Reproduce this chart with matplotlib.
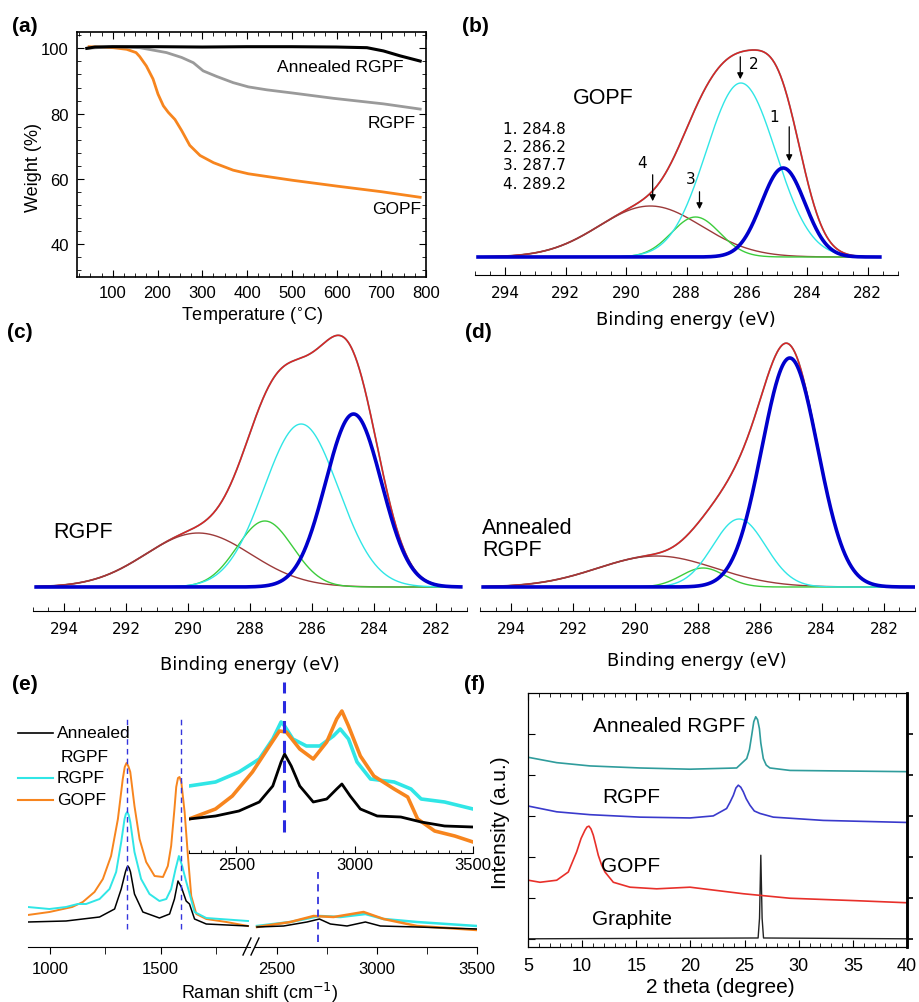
import numpy as np
import matplotlib.pyplot as plt
from matplotlib.lines import Line2D
from matplotlib.ticker import MultipleLocator

plt.rcParams['font.family'] = ['Liberation Sans', 'DejaVu Sans']

# ---- (a) TGA ----
tga_temp_annealed = [42, 60, 100, 200, 300, 400, 500, 600, 668, 705, 742, 787]
tga_w_annealed = [100.0, 100.4, 100.5, 100.5, 100.4, 100.5, 100.5, 100.4, 100.2, 99.2, 97.7, 96.1]
tga_temp_rgpf = [42, 100, 160, 220, 254, 280, 302, 332, 369, 403, 444, 503, 593, 705, 787]
tga_w_rgpf = [100.0, 100.5, 100.2, 98.7, 97.2, 95.6, 93.1, 91.4, 89.5, 88.2, 87.3, 86.3, 84.7, 83.0, 81.4]
tga_temp_gopf = [47, 101, 131, 152, 160, 175, 190, 201, 213, 224, 239, 254, 272, 295, 325, 369, 403,
                 502, 602, 701, 787]
tga_w_gopf = [100.5, 100.2, 99.7, 98.7, 97.5, 94.6, 90.6, 86.0, 82.4, 80.4, 78.2, 74.8, 70.3, 67.2, 65.0,
              62.7, 61.6, 59.6, 57.8, 56.1, 54.4]

# ---- (b)-(d) XPS C1s fits: components 1..4 (centre eV, height, sigma) ----
xps_labels = ['1. 284.8', '2. 286.2', '3. 287.7', '4. 289.2']
gopf_centers = [284.8, 286.2, 287.7, 289.2]
gopf_heights = [89, 174, 40, 51]
gopf_sigmas = [0.72, 1.15, 0.8, 1.7]
rgpf_centers = [284.66, 286.35, 287.52, 289.67]
rgpf_heights = [173, 163, 66, 54]
rgpf_sigmas = [0.9, 1.2, 0.9, 1.7]
ann_centers = [285.03, 286.66, 287.82, 289.32]
ann_heights = [229, 68, 19, 31]
ann_sigmas = [0.9, 0.85, 0.7, 1.9]
arrow_x = [284.6, 286.22, 287.57, 289.12]

# ---- (e) Raman ----
orange_l_x = [899, 997, 1100, 1148, 1201, 1239, 1276, 1307, 1329, 1338, 1346, 1354, 1363, 1382, 1405, 1435,
              1473, 1511, 1533, 1548, 1563, 1571, 1579, 1586, 1594, 1609, 1624, 1639, 1662, 1707, 1798, 1896]
orange_l_y = [32, 35, 40, 45, 55, 68, 91, 128, 168, 180, 184, 181, 175, 141, 108, 85, 71, 70, 81, 101, 138,
              160, 169, 170, 165, 135, 91, 51, 33, 28, 25, 21]
cyan_l_x = [899, 997, 1072, 1125, 1163, 1224, 1269, 1299, 1322, 1337, 1343, 1349, 1356, 1363, 1382, 1412,
            1450, 1495, 1526, 1548, 1568, 1583, 1598, 1613, 1628, 1654, 1707, 1896]
cyan_l_y = [40, 38, 40, 43, 43, 48, 58, 75, 105, 128, 133, 135, 132, 125, 95, 68, 53, 46, 48, 58, 78, 91,
            81, 68, 56, 35, 29, 26]
black_l_x = [899, 1072, 1224, 1292, 1322, 1341, 1347, 1352, 1358, 1364, 1382, 1420, 1495, 1541, 1563, 1579,
             1594, 1616, 1631, 1654, 1707, 1896]
black_l_y = [25, 26, 30, 38, 58, 75, 79, 81, 79, 75, 53, 35, 29, 33, 48, 66, 60, 46, 43, 28, 23, 21]
black_r_x = [2400, 2533, 2650, 2712, 2767, 2850, 2942, 3017, 3200, 3500]
black_r_y = [20, 21, 25, 28, 23, 21, 25, 21, 20, 18]
cyan_r_x = [2400, 2567, 2712, 2817, 2942, 3033, 3200, 3500]
cyan_r_y = [21, 25, 31, 30, 33, 28, 25, 21]
orange_r_x = [2400, 2567, 2683, 2783, 2933, 3033, 3200, 3500]
orange_r_y = [20, 25, 31, 30, 35, 28, 21, 17]
cyan_i_x = [2300, 2412, 2511, 2597, 2654, 2689, 2704, 2739, 2796, 2853, 2910, 2939, 2974, 3010, 3067, 3167,
            3238, 3281, 3380, 3500]
cyan_i_y = [67, 71, 81, 94, 114, 131, 127, 114, 107, 107, 117, 124, 114, 91, 74, 71, 64, 54, 51, 44]
orange_i_x = [2300, 2412, 2483, 2568, 2640, 2682, 2711, 2768, 2825, 2882, 2924, 2946, 2974, 3024, 3081, 3167,
              3224, 3266, 3338, 3423, 3500]
orange_i_y = [34, 44, 57, 81, 107, 122, 121, 104, 94, 111, 134, 142, 127, 97, 77, 64, 56, 34, 22, 17, 11]
black_i_x = [2300, 2412, 2511, 2597, 2654, 2689, 2704, 2732, 2768, 2825, 2882, 2924, 2946, 2981, 3024, 3095,
             3195, 3281, 3380, 3500]
black_i_y = [34, 37, 42, 51, 67, 91, 99, 87, 67, 51, 54, 64, 69, 57, 44, 37, 36, 31, 27, 26]
raman_d_g = [1346, 1592]
raman_2d = 2705

# ---- (f) XRD ----
xrd_graphite_x = [5, 26.25, 26.38, 26.5, 26.62, 26.75, 40]
xrd_graphite_y = [0, 0.02, 0.5, 2.04, 0.5, 0.02, 0]
xrd_gopf_x = [5.03, 6.11, 7.65, 8.72, 9.49, 9.9, 10.26, 10.45, 10.63, 10.82, 11.03, 11.25, 11.49, 11.8, 12.11,
              12.88, 14.42, 16.88, 19.96, 22.42, 24.88, 29.2, 35.35, 40]
xrd_gopf_y = [1.43, 1.38, 1.43, 1.63, 2.12, 2.45, 2.65, 2.73, 2.75, 2.68, 2.53, 2.3, 2.04, 1.8, 1.63, 1.38,
              1.26, 1.22, 1.26, 1.18, 1.10, 0.99, 0.93, 0.88]
xrd_rgpf_x = [5.03, 7.65, 10.72, 15.34, 19.96, 22.11, 23.34, 23.65, 23.96, 24.2, 24.42, 24.65, 24.88, 25.15,
              25.5, 25.9, 26.42, 27.65, 32.27, 40]
xrd_rgpf_y = [3.24, 3.10, 3.03, 2.97, 2.95, 3.0, 3.18, 3.33, 3.50, 3.68, 3.75, 3.7, 3.59, 3.42, 3.26, 3.12,
              3.06, 2.97, 2.89, 2.84]
xrd_ann_x = [5.03, 7.65, 10.72, 15.34, 19.96, 24.27, 25.2, 25.45, 25.66, 25.85, 26.03, 26.2, 26.37, 26.5,
             26.73, 27.0, 27.34, 29.2, 40]
xrd_ann_y = [4.43, 4.30, 4.22, 4.17, 4.14, 4.17, 4.40, 4.62, 4.97, 5.3, 5.42, 5.35, 5.13, 4.78, 4.40, 4.24,
             4.17, 4.11, 4.08]

W, H = 919, 1003
fig = plt.figure(figsize=(W / 100, H / 100), dpi=100)


def px_axes(l, t, r, b):
    return fig.add_axes([l / W, 1 - b / H, (r - l) / W, (b - t) / H])


def ptext(x, y, s, **kw):
    kw.setdefault('ha', 'left')
    kw.setdefault('va', 'center')
    fig.text(x / W, 1 - y / H, s, **kw)


def pline(xs, ys, **kw):
    fig.add_artist(Line2D([x / W for x in xs], [1 - y / H for y in ys], transform=fig.transFigure, **kw))


ORANGE = '#f7851e'
CYAN = '#30e6e6'

# ---------------- (a) ----------------
ax = px_axes(77, 33, 426, 278)
ax.plot(tga_temp_gopf, tga_w_gopf, color=ORANGE, lw=2)
ax.plot(tga_temp_rgpf, tga_w_rgpf, color='#9a9a9a', lw=2)
ax.plot(tga_temp_annealed, tga_w_annealed, color='black', lw=2.2)
ax.set_xlim(20, 800)
ax.set_ylim(30, 105)
ax.set_xticks(range(100, 801, 100))
ax.xaxis.set_minor_locator(MultipleLocator(25))
ax.set_yticks([40, 60, 80, 100])
ax.yaxis.set_minor_locator(MultipleLocator(4))
ax.tick_params(which='both', direction='in', top=True, right=True, labelsize=12, pad=6)
ax.tick_params(which='major', length=5)
ax.tick_params(which='minor', length=3)
for s in ax.spines.values():
    s.set_linewidth(1.2)
ptext(277, 68, 'Annealed RGPF', fontsize=12.5)
ptext(368, 124, 'RGPF', fontsize=12.5)
ptext(372, 210, 'GOPF', fontsize=12.5)
ptext(252, 316, 'Temperature ($^{\\circ}$C)', ha='center', fontsize=13)
ptext(33, 168, 'Weight (%)', rotation=90, ha='center', fontsize=13)

# ---------------- (b)-(d) ----------------
xps_colors = ['#0000cc', CYAN, '#3ccc3c', '#9c3a3a']
xps_lws = [2.6, 1.0, 1.0, 1.0]


def xps_panel(rect, centers, heights, sigmas, x_end, ybottom):
    a = px_axes(*rect)
    be = np.linspace(294.9, x_end, 600)
    comps = [h * np.exp(-(be - c) ** 2 / (2 * s ** 2)) for c, h, s in zip(centers, heights, sigmas)]
    env = np.sum(comps, axis=0)
    a.plot(be, env, color='#444444', lw=1.3, alpha=0.7)
    a.plot(be, env, color='#dd2222', lw=1.0)
    for i in [3, 2, 1, 0]:
        a.plot(be, comps[i], color=xps_colors[i], lw=xps_lws[i])
    a.set_xlim(295, 281)
    a.set_ylim(ybottom, rect[3] - rect[1] + ybottom)
    for k in ['left', 'right', 'top']:
        a.spines[k].set_visible(False)
    a.set_yticks([])
    a.set_xticks(range(282, 295, 2))
    a.set_xticklabels([str(v) for v in range(282, 295, 2)], fontfamily='DejaVu Sans')
    a.xaxis.set_minor_locator(MultipleLocator(0.5))
    a.tick_params(axis='x', which='major', direction='in', length=6, labelsize=11, pad=7)
    a.tick_params(axis='x', which='minor', direction='in', length=3)
    return a


ax_b = xps_panel((475, 40, 898, 276), gopf_centers, gopf_heights, gopf_sigmas, 281.6, -18)
ax_c = xps_panel((33, 330, 467, 612), rgpf_centers, rgpf_heights, rgpf_sigmas, 281.2, -24)
ax_d = xps_panel((480, 330, 915, 612), ann_centers, ann_heights, ann_sigmas, 281.0, -24)

arrow_tips = [93, 175, 45, 53]
arrow_len = [40, 28, 23, 32]
num_off = [(0.5, 48), (-0.45, 19), (0.3, 33), (0.36, 42)]
for i in range(4):
    ax_b.annotate('', xy=(arrow_x[i], arrow_tips[i]), xytext=(arrow_x[i], arrow_tips[i] + arrow_len[i]),
                  arrowprops=dict(arrowstyle='-|>', color='black', lw=0.9, mutation_scale=9))
    ax_b.text(arrow_x[i] + num_off[i][0], arrow_tips[i] + num_off[i][1], str(i + 1), fontsize=11,
              fontfamily='DejaVu Sans', ha='center', va='center')
for i, lab in enumerate(xps_labels):
    ptext(503, 129 + 18.4 * i, lab, fontsize=11, fontfamily='DejaVu Sans')
ptext(573, 98, 'GOPF', fontsize=15.5)
ptext(53, 533, 'RGPF', fontsize=15.5)
ptext(482, 528, 'Annealed', fontsize=15.5)
ptext(482, 550, 'RGPF', fontsize=15.5)
for cx, cy in [(686, 320), (250, 665), (697, 661)]:
    ptext(cx, cy, 'Binding energy (eV)', ha='center', fontsize=13, fontfamily='DejaVu Sans')

# ---------------- (e) ----------------
ax_el = px_axes(28, 700, 250, 948)
ax_er = px_axes(255, 700, 477, 948)
ax_el.set_xlim(900, 1905)
ax_er.set_xlim(2390, 3500)
for a in (ax_el, ax_er):
    a.set_ylim(0, 248)
    a.patch.set_alpha(0)
    for k in ['left', 'right', 'top']:
        a.spines[k].set_visible(False)
    a.set_yticks([])
    a.tick_params(axis='x', which='major', direction='out', length=5, labelsize=12, pad=5)
    a.tick_params(axis='x', which='minor', direction='out', length=5)
ax_el.set_xticks([1000, 1500])
ax_el.set_xticks([1250, 1750], minor=True)
ax_er.set_xticks([2500, 3000, 3500])
ax_er.set_xticks([2750, 3250], minor=True)

ax_el.plot(orange_l_x, orange_l_y, color=ORANGE, lw=1.4)
ax_el.plot(cyan_l_x, cyan_l_y, color=CYAN, lw=1.4)
ax_el.plot(black_l_x, black_l_y, color='black', lw=1.1)
ax_er.plot(cyan_r_x, cyan_r_y, color=CYAN, lw=1.8)
ax_er.plot(orange_r_x, orange_r_y, color=ORANGE, lw=1.8)
ax_er.plot(black_r_x, black_r_y, color='black', lw=1.1)
for xv in raman_d_g:
    ax_el.plot([xv, xv], [18, 228], color='#3535dd', lw=1.0, ls=(0, (4, 3)))
ax_er.plot([raman_2d, raman_2d], [5, 75], color='#3535dd', lw=1.3, ls=(0, (4, 3)))

ax_in = px_axes(189, 670, 473, 854)
ax_in.patch.set_alpha(0)
ax_in.set_xlim(2300, 3500)
ax_in.set_ylim(0, 184)
for k in ['left', 'right', 'top']:
    ax_in.spines[k].set_visible(False)
ax_in.set_yticks([])
ax_in.set_xticks([2500, 3000, 3500])
ax_in.xaxis.set_minor_locator(MultipleLocator(50))
ax_in.tick_params(axis='x', which='major', direction='in', length=5, labelsize=12, pad=3)
ax_in.tick_params(axis='x', which='minor', direction='in', length=2.5)
ax_in.plot(cyan_i_x, cyan_i_y, color=CYAN, lw=2.6)
ax_in.plot(orange_i_x, orange_i_y, color=ORANGE, lw=2.6)
ax_in.plot(black_i_x, black_i_y, color='black', lw=2.0)
ax_in.plot([raman_2d - 5, raman_2d - 5], [21, 171], color='#2a2ae0', lw=2.2, ls=(0, (4, 2.5)))

# axis break marks
pline([243, 251], [956, 939], color='black', lw=1)
pline([251, 259], [956, 939], color='black', lw=1)

# legend
pline([18, 53], [734, 734], color='black', lw=1.2)
pline([18, 53], [779, 779], color=CYAN, lw=1.5)
pline([18, 53], [801, 801], color=ORANGE, lw=1.5)
ptext(57, 734, 'Annealed', fontsize=12.5)
ptext(61, 757, 'RGPF', fontsize=12.5)
ptext(57, 779, 'RGPF', fontsize=12.5)
ptext(57, 801, 'GOPF', fontsize=12.5)
ptext(260, 993, 'Raman shift (cm$^{-1}$)', ha='center', fontsize=13)

# ---------------- (f) ----------------
ax_f = px_axes(528, 694, 907, 948)
ax_f.plot(xrd_graphite_x, xrd_graphite_y, color='#222222', lw=1.0)
ax_f.plot(xrd_gopf_x, xrd_gopf_y, color='#e8302a', lw=1.2)
ax_f.plot(xrd_rgpf_x, xrd_rgpf_y, color='#3a3acc', lw=1.2)
ax_f.plot(xrd_ann_x, xrd_ann_y, color='#2f9c9c', lw=1.2)
ax_f.set_xlim(5, 40)
ax_f.set_ylim(-0.2, 6.0)
ax_f.set_xticks(range(5, 41, 5))
ax_f.xaxis.set_minor_locator(MultipleLocator(1))
ax_f.set_yticks(range(0, 6))
ax_f.set_yticklabels([])
ax_f.tick_params(axis='x', which='both', direction='in', top=True, labelsize=13, pad=7)
ax_f.tick_params(axis='x', which='major', length=5)
ax_f.tick_params(axis='x', which='minor', length=3)
ax_f.tick_params(axis='y', direction='in', length=5, left=True, right=False)
ax_f.spines['right'].set_linewidth(1.8)
ax_f2 = ax_f.twinx()
ax_f2.set_ylim(ax_f.get_ylim())
ax_f2.set_yticks(range(0, 6))
ax_f2.set_yticklabels([])
ax_f2.tick_params(axis='y', direction='out', length=4, width=1.2)
ax_f2.spines['right'].set_linewidth(1.8)
ptext(593, 727, 'Annealed RGPF', fontsize=15)
ptext(602, 798, 'RGPF', fontsize=15)
ptext(601, 867, 'GOPF', fontsize=15)
ptext(592, 920, 'Graphite', fontsize=15)
ptext(720, 988, '2 theta (degree)', ha='center', fontsize=15)
ptext(500, 823, 'Intensity (a.u.)', rotation=90, ha='center', fontsize=15)

# panel labels
for lab, x, y in [('(a)', 12, 27), ('(b)', 462, 26), ('(c)', 7, 333), ('(d)', 465, 332),
                  ('(e)', 12, 684), ('(f)', 464, 684)]:
    ptext(x, y, lab, fontsize=15, fontweight='bold')

fig.savefig('out.png', dpi=100)
